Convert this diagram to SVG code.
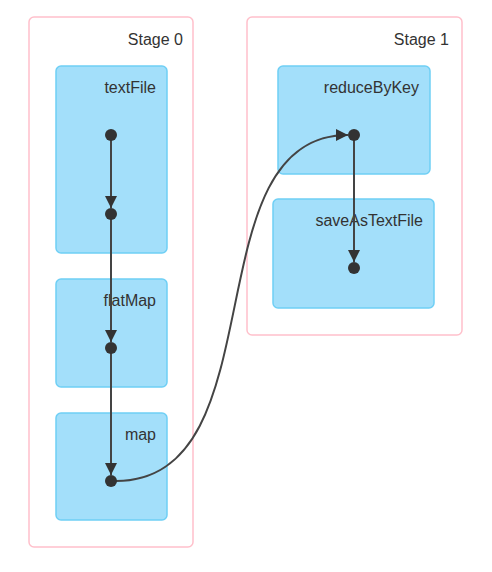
<svg xmlns="http://www.w3.org/2000/svg" width="492" height="572" viewBox="0 0 492 572">
<style>
.stage{fill:#ffffff;stroke:#ffc0cb;stroke-width:1.5}
.op{fill:#a3dffa;stroke:#6fcff5;stroke-width:1.5}
.lbl{font-family:"Liberation Sans",Arial,sans-serif;font-size:16px;fill:#333333;text-anchor:end}
.dot{fill:#333333}
.edge{fill:none;stroke:#444444;stroke-width:2;marker-end:url(#arr)}
</style>
<defs>
<marker id="arr" viewBox="0 0 10 10" refX="10" refY="5" markerWidth="12" markerHeight="12" markerUnits="userSpaceOnUse" orient="auto">
<path d="M0,0 L10,5 L0,10 z" fill="#333333"/>
</marker>
</defs>
<rect width="492" height="572" fill="#ffffff"/>
<g id="stage0">
<rect class="stage" x="29" y="17" width="164" height="530" rx="5"/>
<text class="lbl" x="183" y="45">Stage 0</text>
</g>
<g id="stage1">
<rect class="stage" x="247" y="17" width="215" height="318" rx="5"/>
<text class="lbl" x="449" y="45">Stage 1</text>
</g>
<g id="textFile">
<rect class="op" x="56" y="66" width="111" height="187" rx="5"/>
<text class="lbl" x="156" y="93">textFile</text>
</g>
<g id="flatMap">
<rect class="op" x="56" y="279" width="111" height="108" rx="5"/>
<text class="lbl" x="156" y="306">flatMap</text>
</g>
<g id="map">
<rect class="op" x="56" y="413" width="111" height="107" rx="5"/>
<text class="lbl" x="156" y="440">map</text>
</g>
<g id="reduceByKey">
<rect class="op" x="278" y="66" width="152" height="108" rx="5"/>
<text class="lbl" x="419" y="93">reduceByKey</text>
</g>
<g id="saveAsTextFile">
<rect class="op" x="273" y="199" width="161" height="109" rx="5"/>
<text class="lbl" x="423" y="226">saveAsTextFile</text>
</g>
<g id="connectors">
<path class="edge" d="M111,135 L111,208"/>
<path class="edge" d="M111,214 L111,342"/>
<path class="edge" d="M111,348 L111,475"/>
<path class="edge" d="M116,481 C280,481 190,135 348,135"/>
<path class="edge" d="M354,135 L354,262"/>
<circle class="dot" cx="111" cy="135" r="6"/>
<circle class="dot" cx="111" cy="214" r="6"/>
<circle class="dot" cx="111" cy="348" r="6"/>
<circle class="dot" cx="111" cy="481" r="6"/>
<circle class="dot" cx="354" cy="135" r="6"/>
<circle class="dot" cx="354" cy="268" r="6"/>
</g>
</svg>
